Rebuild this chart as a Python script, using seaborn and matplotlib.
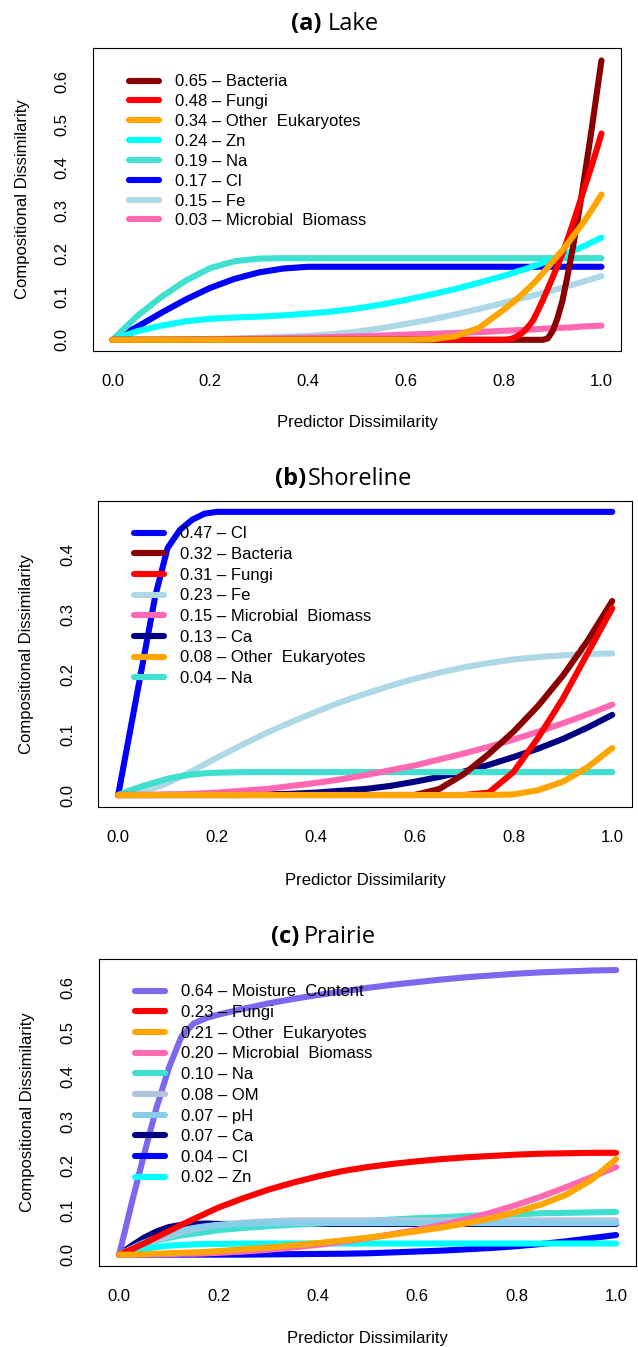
import matplotlib
matplotlib.use("Agg")
import matplotlib.pyplot as plt
import numpy as np
import pandas as pd
import seaborn as sns

# ---------------- data ----------------
# Lake panel
lake_x = [0, .05, .1, .15, .2, .25, .3, .35, .4, .45, .5, .55, .6, .65, .7, .75, .8,
          .81, .82, .83, .84, .85, .86, .87, .88, .89, .9,
          .91, .92, .93, .94, .95, .96, .97, .98, .99, 1.0]
lake_bacteria = [0]*25 + [.003, .02, .05, .09, .145, .205, .27, .34, .415, .49, .57, .65]
lake_fungi = [0]*17 + [.001, .004, .01, .018, .03, .045, .068, .092, .118, .145,
                       .172, .2, .232, .265, .3, .335, .37, .405, .442, .48]
lake_other_euk = [0]*13 + [.001, .008, .028, .07,
                           .079, .088, .098, .108, .119, .13, .142, .155, .168, .182,
                           .195, .208, .223, .238, .253, .268, .285, .302, .32, .338]
lake_zn = [0, .02, .033, .043, .049, .052, .054, .057, .061, .066, .073, .082, .093, .105,
           .118, .133, .149,
           .152, .156, .16, .163, .167, .171, .175, .179, .183, .187,
           .191, .196, .201, .206, .211, .216, .221, .227, .232, .238]
lake_na = [0, .055, .10, .138, .167, .183, .189] + [.19]*30
lake_cl = [0, .03, .063, .094, .121, .142, .157, .166, .17] + [.17]*28
lake_fe = [0, 0, .0005, .001, .002, .003, .005, .007, .009, .013, .019, .027, .037, .047,
           .059, .072, .086,
           .089, .092, .095, .098, .1, .103, .106, .109, .112, .115,
           .118, .121, .125, .128, .131, .134, .138, .141, .145, .148]
lake_mb = [0, 0, 0, .0005, .001, .002, .003, .004, .005, .0065, .008, .01, .012, .014,
           .016, .018, .021,
           .0215, .022, .0225, .023, .0235, .024, .025, .026, .0265, .027,
           .0275, .028, .0285, .029, .030, .031, .0315, .032, .0325, .033]

# Shoreline panel
shore_x = [0, .025, .05, .075, .1, .125, .15, .175, .2, .25, .3, .35, .4, .45, .5, .55,
           .6, .65, .7, .75, .8, .85, .9, .95, 1.0]
shore_cl = [0, .11, .22, .33, .41, .44, .457, .467, .47] + [.47]*16
shore_bacteria = [0]*17 + [.01, .035, .068, .105, .148, .198, .256, .322]
shore_fungi = [0]*19 + [.004, .038, .095, .16, .235, .31]
shore_fe = [0, .001, .005, .012, .02, .03, .04, .051, .062, .083, .103, .121, .138, .154,
            .168, .181, .193, .203, .212, .219, .225, .229, .232, .234, .235]
shore_mb = [0, 0, 0, 0, .001, .001, .002, .003, .004, .007, .01, .015, .02, .026, .033,
            .041, .049, .059, .069, .08, .092, .105, .119, .134, .15]
shore_ca = [0]*10 + [.001, .002, .004, .007, .01, .015, .022, .03, .039, .05, .063, .077,
                     .093, .112, .133]
shore_other_euk = [0]*20 + [.001, .008, .022, .046, .078]
shore_na = [0, .008, .015, .021, .027, .031, .034, .036, .037, .038] + [.038]*15

# Prairie panel
prairie_x = [0, .025, .05, .075, .1, .125, .15, .175, .2, .25, .3, .35, .4, .45, .5, .55,
             .6, .65, .7, .75, .8, .85, .9, .95, 1.0]
prairie_moisture = [0, .115, .225, .33, .42, .49, .52, .532, .54, .553, .565, .575, .584,
                    .592, .6, .607, .613, .619, .624, .628, .632, .635, .637, .639, .64]
prairie_fungi = [0, .012, .025, .039, .053, .067, .08, .093, .106, .127, .146, .162, .176,
                 .188, .197, .204, .21, .215, .219, .222, .225, .227, .228, .229, .229]
prairie_other_euk = [0, 0, .001, .002, .003, .004, .005, .006, .008, .012, .016, .021,
                     .026, .032, .038, .045, .053, .061, .071, .082, .096, .113, .135,
                     .168, .215]
prairie_mb = [0, 0, 0, .001, .001, .002, .002, .003, .004, .007, .011, .016, .022, .029,
              .037, .046, .056, .067, .08, .095, .112, .131, .152, .174, .197]
prairie_na = [0, .012, .022, .031, .038, .043, .047, .051, .055, .06, .064, .067, .07,
              .073, .076, .079, .082, .084, .087, .089, .091, .093, .094, .095, .096]
prairie_om = [0, .012, .023, .033, .042, .05, .057, .062, .066, .072, .075, .077] + [.077]*13
prairie_ph = [0, .014, .027, .038, .047, .054, .06, .064, .067, .07, .071] + [.071]*14
prairie_ca = [0, .02, .038, .052, .062, .067, .069, .07] + [.069]*17
prairie_cl = [0]*10 + [.0005, .001, .0015, .002, .003, .005, .007, .009, .012, .015, .019,
                       .024, .03, .037, .044]
prairie_zn = [0, .007, .013, .017, .02, .022, .023, .024, .024, .025] + [.025]*15

# legend labels (importance – predictor), in legend order
lake_labels = ["0.65 – Bacteria", "0.48 – Fungi", "0.34 – Other  Eukaryotes", "0.24 – Zn",
               "0.19 – Na", "0.17 – Cl", "0.15 – Fe", "0.03 – Microbial  Biomass"]
shore_labels = ["0.47 – Cl", "0.32 – Bacteria", "0.31 – Fungi", "0.23 – Fe",
                "0.15 – Microbial  Biomass", "0.13 – Ca", "0.08 – Other  Eukaryotes",
                "0.04 – Na"]
prairie_labels = ["0.64 – Moisture  Content", "0.23 – Fungi", "0.21 – Other  Eukaryotes",
                  "0.20 – Microbial  Biomass", "0.10 – Na", "0.08 – OM", "0.07 – pH",
                  "0.07 – Ca", "0.04 – Cl", "0.02 – Zn"]

xticks = [0.0, 0.2, 0.4, 0.6, 0.8, 1.0]

# ---------------- style ----------------
sns.set_style("white")
plt.rcParams["font.family"] = ["Liberation Sans", "DejaVu Sans"]
plt.rcParams.update({
    "text.color": "black", "axes.labelcolor": "black",
    "xtick.color": "black", "ytick.color": "black",
    "axes.edgecolor": "black", "axes.linewidth": 0.8,
})

W, H = 638, 1347
fig = plt.figure(figsize=(W / 100, H / 100), dpi=100)
LW = 4.4

COL = {
    "Bacteria": "#8B0000", "Fungi": "#FF0000", "Other Eukaryotes": "#FFA500",
    "Zn": "#00FFFF", "Na": "#40E0D0", "Cl": "#0000FF", "Fe": "#ADD8E6",
    "Microbial Biomass": "#FF69B4", "Ca": "#000080", "Moisture Content": "#7B68EE",
    "OM": "#B0C4DE", "pH": "#87CEEB",
}


def px_axes(l, t, r, b):
    return fig.add_axes([l / W, 1 - b / H, (r - l) / W, (b - t) / H])


def draw_panel(rect, xgrid, series, labels, ylim, yticks, title, legend_anchor,
               ylab_x, xlab_y, fs_leg_spacing):
    l, t, r, b = rect
    ax = px_axes(l, t, r, b)
    handles = {}
    for name, vals, lab in series:   # drawing order
        df = pd.DataFrame({"x": xgrid, "y": vals})
        sns.lineplot(data=df, x="x", y="y", ax=ax, color=COL[name], linewidth=LW,
                     sort=False, estimator=None, legend=False, label=lab,
                     solid_capstyle="round", solid_joinstyle="round")
        handles[lab] = ax.lines[-1]
    ax.set_xlim(-0.04, 1.04)
    ax.set_ylim(*ylim)
    ax.set_xticks(xticks)
    ax.set_xticklabels([f"{v:.1f}" for v in xticks])
    ax.set_yticks(yticks)
    ax.set_yticklabels([f"{v:.1f}" for v in yticks])
    ax.tick_params(axis="both", direction="out", length=7.4, width=0.8, labelsize=12,
                   pad=9.5)
    ax.tick_params(axis="y", labelrotation=90)
    for lbl in ax.get_yticklabels():
        lbl.set_va("center")
    for s in ax.spines.values():
        s.set_visible(True)
        s.set_color("black")
        s.set_linewidth(0.8)
    ax.set_xlabel("Predictor Dissimilarity", fontsize=12, va="center", ha="center")
    ax.set_ylabel("Compositional Dissimilarity", fontsize=12, va="center", ha="center")
    ax.xaxis.set_label_coords(0.5, (b - xlab_y) / (b - t))
    ax.yaxis.set_label_coords((ylab_x - l) / (r - l), 0.5)
    ax.legend(handles=[handles[k] for k in labels], labels=labels,
              loc="upper left",
              bbox_to_anchor=(legend_anchor[0] / W, 1 - legend_anchor[1] / H),
              bbox_transform=fig.transFigure, frameon=False, fontsize=12,
              handlelength=1.8, handletextpad=0.95, labelspacing=fs_leg_spacing,
              borderpad=0, borderaxespad=0)
    # title: bold panel letter + regular name
    (bold, reg, xsplit, xreg, ybase) = title
    fig.text(xsplit / W, 1 - ybase / H, bold, fontfamily="Open Sans", fontweight="bold",
             fontsize=17, ha="right", va="baseline")
    fig.text(xreg / W, 1 - ybase / H, reg, fontfamily="Open Sans", fontsize=17,
             ha="left", va="baseline")
    return ax


# Lake
draw_panel((93, 48, 621, 351), lake_x,
           [("Cl", lake_cl, lake_labels[5]), ("Fe", lake_fe, lake_labels[6]),
            ("Na", lake_na, lake_labels[4]), ("Zn", lake_zn, lake_labels[3]),
            ("Microbial Biomass", lake_mb, lake_labels[7]),
            ("Bacteria", lake_bacteria, lake_labels[0]),
            ("Fungi", lake_fungi, lake_labels[1]),
            ("Other Eukaryotes", lake_other_euk, lake_labels[2])],
           lake_labels, (-0.026, 0.679), [0, .1, .2, .3, .4, .5, .6],
           ("(a)", "Lake", 322, 328, 30), (129, 74.5), 22.4, 423, 0.29)

# Shoreline
draw_panel((98.4, 500.7, 632, 806.7), shore_x,
           [("Ca", shore_ca, shore_labels[5]), ("Cl", shore_cl, shore_labels[0]),
            ("Fe", shore_fe, shore_labels[3]), ("Na", shore_na, shore_labels[7]),
            ("Microbial Biomass", shore_mb, shore_labels[4]),
            ("Bacteria", shore_bacteria, shore_labels[1]),
            ("Fungi", shore_fungi, shore_labels[2]),
            ("Other Eukaryotes", shore_other_euk, shore_labels[6])],
           shore_labels, (-0.0194, 0.4885), [0, .1, .2, .3, .4],
           ("(b)", "Shoreline", 306, 308, 485), (133.7, 526.5), 26.5, 880, 0.34)

# Prairie
draw_panel((99.3, 958.7, 636, 1266), prairie_x,
           [("Ca", prairie_ca, prairie_labels[7]), ("Cl", prairie_cl, prairie_labels[8]),
            ("Moisture Content", prairie_moisture, prairie_labels[0]),
            ("Na", prairie_na, prairie_labels[4]), ("OM", prairie_om, prairie_labels[5]),
            ("pH", prairie_ph, prairie_labels[6]), ("Zn", prairie_zn, prairie_labels[9]),
            ("Microbial Biomass", prairie_mb, prairie_labels[3]),
            ("Fungi", prairie_fungi, prairie_labels[1]),
            ("Other Eukaryotes", prairie_other_euk, prairie_labels[2])],
           prairie_labels, (-0.0256, 0.6656), [0, .1, .2, .3, .4, .5, .6],
           ("(c)", "Prairie", 299, 304, 943), (134.7, 984.5), 27.8, 1339, 0.34)

fig.savefig("out.png", dpi=100)
